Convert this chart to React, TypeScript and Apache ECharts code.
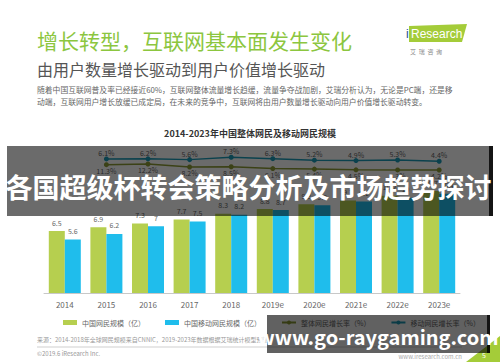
import React, { useEffect, useRef } from "react";
import * as echarts from "echarts";

const categories = ["2014", "2015", "2016", "2017", "2018", "2019e", "2020e", "2021e", "2022e", "2023e"];
const netUsers = [6.5, 6.9, 7.3, 7.7, 8.3, 8.8, 9.3, 9.7, 10.2, 10.7];
const mobileUsers = [5.6, 6.2, 7.0, 7.5, 8.2, 8.7, 9.2, 9.6, 10.0, 10.4];
const tealRate = [null, 6.1, 6.2, 5.6, 7.3, 6.3, 5.2, 4.9, 5.3, 4.4];
const oliveRate = [null, 11.3, 12.2, 8.2, 8.5, 6.1, 5.4, 4.5, 4.3, 4.2];
const seriesNames = ["中国网民规模（亿）", "中国移动网民规模（亿）", "整体网民增长率（%）", "移动网民增长率（%）"];

const FONT = '"Noto Sans CJK SC", "Noto Sans", sans-serif';

export default function App() {
  const ref = useRef<HTMLDivElement>(null);
  useEffect(() => {
    document.body.style.margin = "0";
    const chart = echarts.init(ref.current!, null, { renderer: "svg" });
    const txt = (x: number, y: number, text: string, size: number, fill: string, extra: any = {}) => ({
      type: "text",
      x,
      y,
      z: extra.z ?? 10,
      style: {
        text,
        fontSize: size,
        fill,
        fontFamily: FONT,
        textVerticalAlign: "middle",
        textAlign: extra.align ?? "left",
        fontWeight: extra.weight ?? "normal",
      },
    });
    chart.setOption({
      animation: false,
      backgroundColor: "#ffffff",
      textStyle: { fontFamily: FONT },
      grid: { left: 44, right: 40, top: 150, bottom: 69 },
      legend: {
        left: 58,
        top: 314,
        itemGap: 20,
        itemWidth: 14,
        itemHeight: 5,
        textStyle: { fontSize: 7, color: "#666", fontFamily: FONT },
        data: [
          { name: seriesNames[0], icon: "rect" },
          { name: seriesNames[1], icon: "rect" },
          { name: seriesNames[2] },
          { name: seriesNames[3] },
        ],
      },
      xAxis: {
        type: "category",
        data: categories,
        axisLine: { lineStyle: { color: "#c8c8c8", width: 1 } },
        axisTick: { show: false },
        axisLabel: { color: "#666", fontSize: 8, margin: 7, fontFamily: FONT },
      },
      yAxis: [
        { type: "value", min: 0, max: 15, show: false },
        { type: "value", min: -91.4, max: 12.6, show: false },
        { type: "value", min: -159.2, max: 30.8, show: false },
      ],
      series: [
        {
          name: seriesNames[0],
          type: "bar",
          data: netUsers,
          barWidth: 16,
          barGap: "0%",
          itemStyle: { color: "#b6cf4f" },
          label: { show: true, position: "top", distance: 5, fontSize: 7, color: "#666" },
        },
        {
          name: seriesNames[1],
          type: "bar",
          data: mobileUsers,
          barWidth: 16,
          barGap: "0%",
          itemStyle: { color: "#1fbdec" },
          label: { show: true, position: "top", distance: 5, fontSize: 7, color: "#666" },
        },
        {
          name: seriesNames[2],
          type: "line",
          yAxisIndex: 2,
          data: oliveRate,
          symbol: "circle",
          symbolSize: 5,
          lineStyle: { color: "#8d9c35", width: 1.5 },
          itemStyle: { color: "#8d9c35" },
          label: { show: true, position: "bottom", distance: 0, fontSize: 7, color: "#666", formatter: "{c}%" },
        },
        {
          name: seriesNames[3],
          type: "line",
          yAxisIndex: 1,
          data: tealRate,
          symbol: "circle",
          symbolSize: 5,
          lineStyle: { color: "#1b9cb8", width: 1.5 },
          itemStyle: { color: "#1b9cb8" },
          label: { show: true, position: "top", distance: 0, fontSize: 7, color: "#666", formatter: "{c}%" },
        },
      ],
      graphic: [
        txt(37, 40, "增长转型，互联网基本面发生变化", 21, "#8cc63f"),
        txt(37, 69, "由用户数量增长驱动到用户价值增长驱动", 16, "#555"),
        txt(37, 89, "随着中国互联网普及率已经接近60%，互联网整体流量增长趋缓，流量争夺战加剧，艾瑞分析认为，无论是PC端，还是移", 7.8, "#666"),
        txt(37, 101, "动端，互联网用户增长放缓已成定局，在未来的竞争中，互联网将由用户数量增长驱动向用户价值增长驱动转变。", 7.8, "#666"),
        {
          type: "polygon",
          z: 9,
          shape: { points: [[409, 26], [467, 24], [462, 42], [409, 42]] },
          style: { fill: "#a4cc39" },
        },
        {
          type: "text",
          x: 406,
          y: 34,
          z: 10,
          style: { text: "i", fontSize: 12, fill: "#1d4f91", fontFamily: "Liberation Sans", textVerticalAlign: "middle" },
        },
        {
          type: "text",
          x: 411,
          y: 34,
          z: 10,
          style: { text: "Research", fontSize: 12, fill: "#ffffff", fontFamily: "Liberation Sans", textVerticalAlign: "middle" },
        },
        txt(410, 51, "艾  瑞  咨  询", 6, "#888"),
        txt(250, 133, "2014-2023年中国整体网民及移动网民规模", 9, "#333", { align: "center", weight: "bold" }),
        txt(37, 339, "来源：2014-2018年全球网民规模来自CNNIC，2019-2023年数据根据艾瑞统计模型预测", 6, "#999"),
        {
          type: "line",
          z: 10,
          shape: { x1: 37, y1: 347, x2: 462, y2: 347 },
          style: { stroke: "#cfcfcf", lineWidth: 1 },
        },
        txt(37, 353, "©2019.6 iResearch Inc.", 6, "#999"),
        txt(462, 356, "www.iresearch.com.cn", 6, "#aaa", { align: "right" }),
        {
          type: "polygon",
          z: 10,
          shape: { points: [[466, 362], [500, 336], [500, 362]] },
          style: { fill: "#a4cc39" },
        },
        txt(484, 355, "5", 7, "#fff", { align: "center" }),
        {
          type: "rect",
          z: 100,
          shape: { x: 7, y: 146, width: 482, height: 70 },
          style: { fill: "rgba(0,0,0,0.58)" },
        },
        {
          type: "rect",
          z: 100,
          shape: { x: 489, y: 146, width: 4, height: 70 },
          style: { fill: "rgba(0,0,0,0.92)" },
        },
        txt(248.5, 186, "各国超级杯转会策略分析及市场趋势探讨", 27, "#ffffff", { align: "center", weight: "bold", z: 101 }),
        {
          type: "rect",
          z: 100,
          shape: { x: 267, y: 315, width: 220, height: 38 },
          style: { fill: "rgba(0,0,0,0.62)" },
        },
        {
          type: "rect",
          z: 100,
          shape: { x: 487, y: 315, width: 3, height: 38 },
          style: { fill: "rgba(0,0,0,0.92)" },
        },
        txt(378, 336, "www.go-raygaming.com", 20, "#ffffff", { align: "center", weight: "bold", z: 101 }),
      ],
    });
    return () => chart.dispose();
  }, []);
  return <div ref={ref} style={{ width: 500, height: 362 }} />;
}
